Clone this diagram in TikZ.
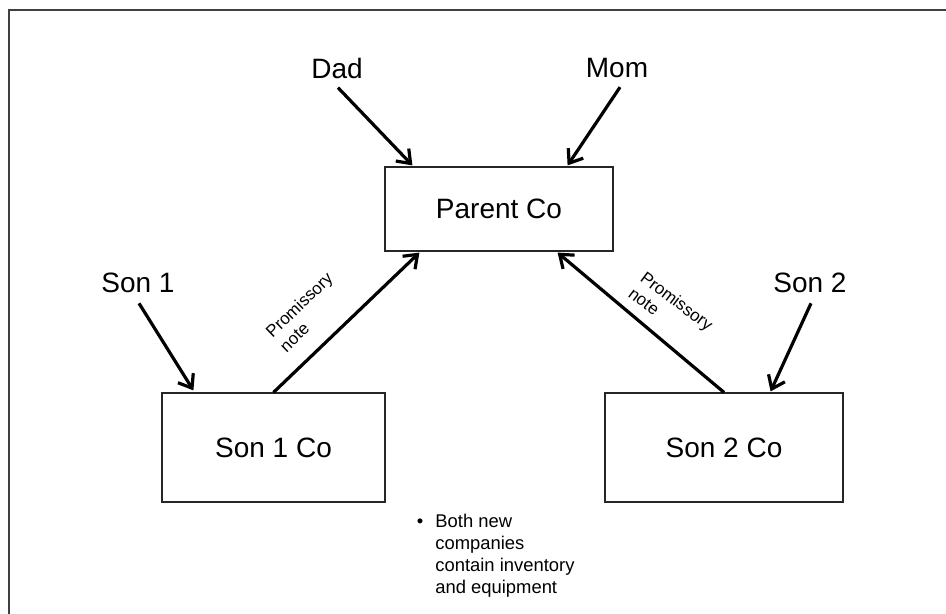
\documentclass[tikz,border=0pt]{standalone}
\usepackage{fontspec}
\setmainfont{Liberation Sans}
\usetikzlibrary{arrows.meta}
\tikzset{
  boxnode/.style={draw=black!85, line width=0.6pt, minimum width=#1, inner sep=0pt, font=\fontsize{14}{16}\selectfont},
  lbl/.style={inner sep=0pt, font=\fontsize{14}{16}\selectfont},
  small/.style={inner sep=0pt, font=\fontsize{8.5}{10}\selectfont, align=left},
  arr/.style={line width=1.6pt, -{Straight Barb[length=6pt,width=9pt,line width=1.6pt]}},
  frame/.style={draw=black!75, line width=1.2pt}
}
\begin{document}
\begin{tikzpicture}[x=0.5pt,y=-0.5pt]
\useasboundingbox (0,0) rectangle (946,614);
% frame
\coordinate (ftr) at (946,10);
\coordinate (ftl) at (9,10);
\coordinate (fbl) at (9,614);
\draw[frame] (ftr) -- (ftl) -- (fbl);
% boxes
\node[boxnode=114pt, minimum height=42pt] (parent) at (499,209) {Parent Co};
\node[boxnode=111.5pt, minimum height=54.5pt] (son1co) at (273.5,447.5) {Son 1 Co};
\node[boxnode=119pt, minimum height=54.5pt] (son2co) at (724,447.5) {Son 2 Co};
% labels
\node[lbl] (dad) at (337,68) {Dad};
\node[lbl] (mom) at (617,68) {Mom};
\node[lbl] (son1) at (138,283) {Son 1};
\node[lbl] (son2) at (810,283) {Son 2};
% arrows
\draw[arr] ([shift={(1,9)}]dad.south) -- ([shift={(28,-1)}]parent.north west);
\draw[arr] ([shift={(3,9)}]mom.south) -- ([shift={(-46,-1)}]parent.north east);
\draw[arr] ([shift={(1,10)}]son1.south) -- ([shift={(32,-2)}]son1co.north west);
\draw[arr] ([shift={(1,10)}]son2.south) -- ([shift={(-73,-1)}]son2co.north east);
\draw[arr] (son1co.north) -- ([shift={(35,1)}]parent.south west);
\draw[arr] (son2co.north) -- ([shift={(-56,1)}]parent.south east);
% promissory labels
\node[small, rotate=44] (pn1) at (306,312) {Promissory\\note};
\node[small, rotate=-37] (pn2) at (671,309) {Promissory\\note};
% bullet note
\node[inner sep=0pt, anchor=north west, align=left, font=\fontsize{9.2}{11}\selectfont] (note) at (435,514) {\llap{•\hspace{6pt}}Both new\\companies\\contain inventory\\and equipment};
\end{tikzpicture}
\end{document}
